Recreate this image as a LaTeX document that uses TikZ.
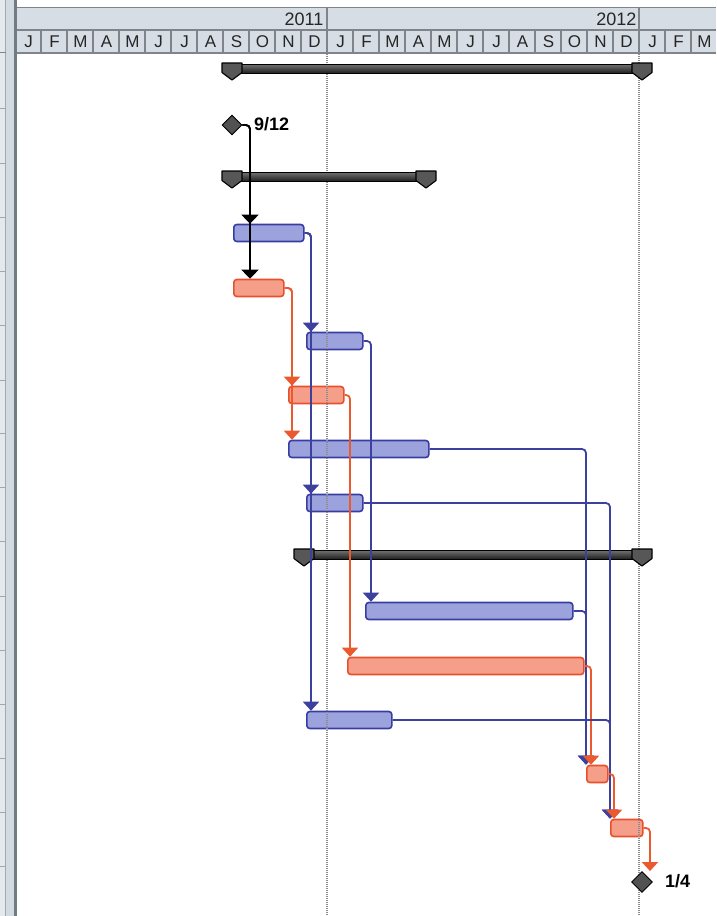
\documentclass[tikz,border=0pt]{standalone}
\usepackage{fontspec}
\setmainfont{Liberation Sans}
\usetikzlibrary{arrows.meta,shapes.geometric}

\definecolor{panellight}{HTML}{E3E9EF}
\definecolor{panelband}{HTML}{D2DAE2}
\definecolor{paneldark}{HTML}{737B83}
\definecolor{hdrfill}{HTML}{D6DDE5}
\definecolor{hdrline}{HTML}{7E848A}
\definecolor{hdrtext}{HTML}{262626}
\definecolor{gridcol}{HTML}{8C8C8C}
\definecolor{taskblue}{HTML}{383DA2}
\definecolor{taskbluefill}{HTML}{9BA2DC}
\definecolor{taskred}{HTML}{E8502C}
\definecolor{taskredfill}{HTML}{F59F8A}
\definecolor{linkblue}{HTML}{3D419E}
\definecolor{linkred}{HTML}{EA5A2E}
\definecolor{sumcapfill}{HTML}{575757}

\tikzset{
  monthlbl/.style={font=\fontsize{17}{17}\selectfont, text=hdrtext, inner sep=0pt},
  yearlbl/.style={font=\fontsize{18}{18}\selectfont, text=hdrtext, inner sep=0pt, anchor=east},
  task/.style={rectangle, rounded corners=3pt, minimum height=17pt, inner sep=0pt,
    anchor=west, line width=1.6pt},
  btask/.style={task, draw=taskblue, fill=taskbluefill},
  rtask/.style={task, draw=taskred, fill=taskredfill},
  sumbody/.style={rectangle, inner sep=0pt, minimum height=9pt, anchor=north west,
    draw=black, line width=1.2pt, top color=black!55, bottom color=black!88},
  sumcap/.style={fill=sumcapfill, draw=black, line width=1.1pt, line join=round},
  milestone/.style={diamond, inner sep=0pt, fill=black!68, draw=black, line width=0.9pt},
  mslabel/.style={font=\bfseries\fontsize{18}{18}\selectfont, inner sep=0pt, anchor=west},
  link/.style={line width=1.8pt, rounded corners=4pt},
  klink/.style={link, draw=black, -{Triangle[width=17pt,length=9pt]}},
  blink/.style={link, draw=linkblue, -{Triangle[width=16pt,length=9pt]}},
  rlink/.style={link, draw=linkred, -{Triangle[width=16pt,length=9pt]}},
  gridline/.style={draw=gridcol, line width=1.1pt, dash pattern=on 1pt off 1pt},
}

% summary bar: name, left end, right end, top edge
\newcommand{\ganttsummary}[4]{%
  \node[sumbody, minimum width={(#3-#2)*1pt}] (#1) at (#2,#4+0.5) {};
  \draw[sumcap] (#2-10,#4) -- (#2+10,#4) -- (#2+10,#4+9.5) -- (#2,#4+17) -- (#2-10,#4+9.5) -- cycle;
  \draw[sumcap] (#3-10,#4) -- (#3+10,#4) -- (#3+10,#4+9.5) -- (#3,#4+17) -- (#3-10,#4+9.5) -- cycle;
}

\begin{document}
\begin{tikzpicture}[x=1pt,y=-1pt]
\useasboundingbox (0,0) rectangle (716,916);
\fill[white] (0,0) rectangle (716,916);

% left table edge
\fill[panellight] (0,0) rectangle (5.5,916);
\fill[panelband] (5.5,0) rectangle (14,916);
\draw[hdrline!70, line width=0.8pt] (5.5,0) -- (5.5,916);
\fill[paneldark] (14,0) rectangle (16.8,916);
\draw[hdrline, line width=0.8pt] (0,52.5) -- (5.5,52.5);
\foreach \y in {108,163,217,271,325,380,433,487,541,596,650,704,758,812,866}
  \draw[black!35, line width=0.8pt] (0,\y) -- (5.5,\y);

% timescale header
\fill[hdrfill] (16.8,7) rectangle (716,53);
\draw[hdrline, line width=1.3pt] (16.8,7.5) -- (716,7.5);
\draw[hdrline, line width=1.3pt] (16.8,30) -- (716,30);
\draw[hdrline, line width=1.3pt] (16.8,53) -- (716,53);
\foreach \i in {1,...,26}
  \draw[hdrline, line width=1.5pt] (15+26*\i,30) -- (15+26*\i,53);
\draw[hdrline, line width=1.5pt] (327,7) -- (327,53);
\draw[hdrline, line width=1.5pt] (639,7) -- (639,53);
\foreach \m [count=\i from 0] in {J,F,M,A,M,J,J,A,S,O,N,D,J,F,M,A,M,J,J,A,S,O,N,D,J,F,M}
  \node[monthlbl] (mo\i) at (28.5+26*\i,42) {\m};
\node[yearlbl] (yr2011) at (323.5,19) {2011};
\node[yearlbl] (yr2012) at (636.5,19) {2012};

% tasks
\node[btask, minimum width=70pt]  (b1) at (233,233) {};
\node[rtask, minimum width=50pt]  (r1) at (233,288) {};
\node[btask, minimum width=56pt]  (b2) at (306,341) {};
\node[rtask, minimum width=55pt]  (r2) at (288,395) {};
\node[btask, minimum width=140pt] (b3) at (288,449) {};
\node[btask, minimum width=56pt]  (b4) at (306,503) {};
\node[btask, minimum width=207pt] (b5) at (365,611) {};
\node[rtask, minimum width=236pt] (r3) at (347,666) {};
\node[btask, minimum width=85pt]  (b6) at (306,720) {};
\node[rtask, minimum width=21pt]  (r4) at (586,774) {};
\node[rtask, minimum width=32pt]  (r5) at (610,828) {};

% year boundaries
\draw[gridline] (327,54) -- (327,916);
\draw[gridline] (639,54) -- (639,916);

% summary tasks
\ganttsummary{s1}{232}{642}{63}
\ganttsummary{s2}{232}{426}{171}
\ganttsummary{s3}{304}{642}{549}

% milestones
\node[milestone, minimum width=20pt, minimum height=20pt] (m1) at (232,125) {};
\node[mslabel] (m1lbl) at (254,124) {9/12};
\node[milestone, minimum width=21pt, minimum height=21pt] (m2) at (642,882) {};
\node[mslabel] (m2lbl) at (665,881) {1/4};

% dependency links
\draw[klink] (m1.east) -| ([xshift=17pt]b1.north west);
\draw[klink] (m1.east) -| ([xshift=17pt]r1.north west);

\draw[blink] (b1.east) -| ([xshift=5pt]b2.north west);
\draw[blink] (b1.east) -| ([xshift=5pt]b4.north west);
\draw[blink] (b1.east) -| ([xshift=5pt]b6.north west);
\draw[rlink] (r1.east) -| ([xshift=4pt]r2.north west);
\draw[rlink] (r1.east) -| ([xshift=4pt]b3.north west);
\draw[blink] (b2.east) -| ([xshift=6pt]b5.north west);
\draw[rlink] (r2.east) -| ([xshift=3pt]r3.north west);
\draw[blink] (b3.east) -| (r4.north west);
\draw[blink] (b5.east) -| (r4.north west);
\draw[rlink] (r3.east) -| ([xshift=5pt]r4.north west);
\draw[blink] (b4.east) -| (r5.north west);
\draw[blink] (b6.east) -| (r5.north west);
\draw[rlink] (r4.east) -| ([xshift=4pt]r5.north west);
\draw[rlink] (r5.east) -| ([xshift=8pt]m2.north);
\end{tikzpicture}
\end{document}
